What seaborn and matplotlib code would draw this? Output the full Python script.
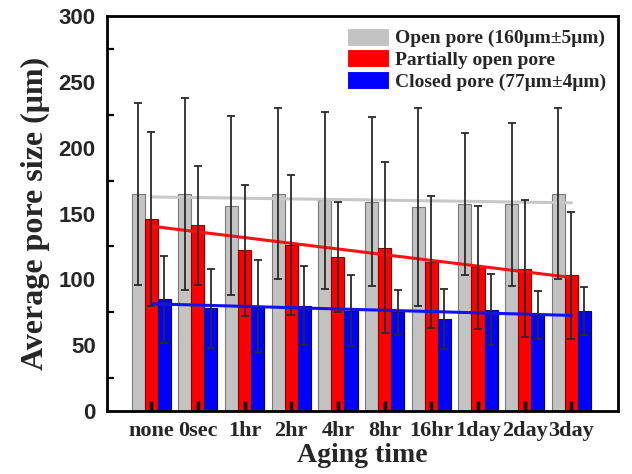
import numpy as np
import pandas as pd
import matplotlib
matplotlib.use("Agg")
import matplotlib.pyplot as plt
from matplotlib.ticker import MultipleLocator
import seaborn as sns

categories = ["none", "0sec", "1hr", "2hr", "4hr", "8hr", "16hr", "1day", "2day", "3day"]
series_names = ["Open pore (160μm±5μm)", "Partially open pore", "Closed pore (77μm±4μm)"]
open_mean = [165, 165, 156, 165, 160, 159, 155, 157, 157, 165]
open_sd = [69, 73, 68, 65, 67, 64, 75, 54, 62, 65]
partial_mean = [146, 141, 122, 126, 117, 124, 113, 109, 108, 103]
partial_sd = [66, 45, 50, 53, 42, 65, 50, 47, 52, 48]
closed_mean = [85, 78, 80, 80, 76, 75, 70, 77, 73, 76]
closed_sd = [33, 30, 35, 30, 27, 17, 23, 27, 18, 18]

bar_colors = ["#c3c3c3", "#ff0000", "#0000ff"]
edge_colors = ["#7a7a7a", "#8a0000", "#00008a"]
line_colors = ["#c8c8c8", "#ff1010", "#1010ff"]

means = [open_mean, partial_mean, closed_mean]
sds = [open_sd, partial_sd, closed_sd]

df = pd.DataFrame({
    "Aging": categories * 3,
    "size": open_mean + partial_mean + closed_mean,
    "series": sum([[s] * len(categories) for s in series_names], []),
})

sns.set_style("white")
plt.rcParams["font.family"] = ["Liberation Serif", "DejaVu Serif"]
plt.rcParams["font.weight"] = "bold"

fig = plt.figure(figsize=(6.32, 4.74), dpi=100)
ax = fig.add_axes([0.169, 0.133, 0.809, 0.833])

sns.barplot(data=df, x="Aging", y="size", hue="series", order=categories,
            hue_order=series_names, palette=bar_colors, width=0.84,
            saturation=1, errorbar=None, linewidth=0.8, ax=ax, zorder=2)

for cont, ec in zip(ax.containers, edge_colors):
    for p in cont:
        p.set_edgecolor(ec)

# trend lines
xs_idx = np.arange(len(categories))
for m, lc in zip(means, line_colors):
    sns.regplot(x=xs_idx, y=np.array(m, dtype=float), scatter=False, ci=None,
                color=lc, line_kws=dict(lw=2.2, zorder=3), ax=ax, truncate=True)

# error bars
for cont, m, s in zip(ax.containers, means, sds):
    xs = [p.get_x() + p.get_width() / 2 for p in cont]
    ax.errorbar(xs, m, yerr=s, fmt="none", ecolor="#2a2a2a", elinewidth=1.3,
                capsize=3, capthick=1.3, zorder=4)

ax.set_axisbelow(False)
ax.xaxis.set_zorder(5)
ax.yaxis.set_zorder(5)
ax.set_xlim(-0.95, 10.0)
ax.set_ylim(0, 300)
ax.set_xticks(xs_idx)
ax.set_xticklabels(categories, fontsize=16, fontweight="bold",
                   family=["Liberation Serif"])
ax.yaxis.set_major_locator(MultipleLocator(50))
ax.yaxis.set_minor_locator(MultipleLocator(25))
for lab in ax.get_yticklabels():
    lab.set_fontfamily(["Liberation Sans"])
    lab.set_fontweight("bold")
    lab.set_fontsize(16)

ax.tick_params(axis="x", direction="in", length=7, width=2.5, pad=7, color="black", bottom=True)
ax.tick_params(axis="y", which="major", direction="inout", length=12, width=1.6, pad=2, color="black")
ax.tick_params(axis="y", which="minor", direction="in", length=5, width=1.6, left=True, color="black")

for sp in ax.spines.values():
    sp.set_visible(True)
    sp.set_linewidth(2.0)
    sp.set_color("black")
    sp.set_zorder(6)

ax.set_xlabel("Aging time", fontsize=20, fontweight="bold", labelpad=2)
ax.set_ylabel("Average pore size (μm)", fontsize=23, fontweight="bold", labelpad=6)

handles, labels = ax.get_legend_handles_labels()
if ax.get_legend() is not None:
    ax.get_legend().remove()
leg = ax.legend(handles[:3], series_names, loc="upper right", bbox_to_anchor=(1.0, 1.0),
                frameon=False, prop=dict(family="Liberation Serif", weight="bold", size=14),
                handlelength=2.2, handleheight=1.05, handletextpad=0.3,
                labelspacing=0.1, borderaxespad=0.3, borderpad=0.3)

fig.savefig("out.png", dpi=100)
